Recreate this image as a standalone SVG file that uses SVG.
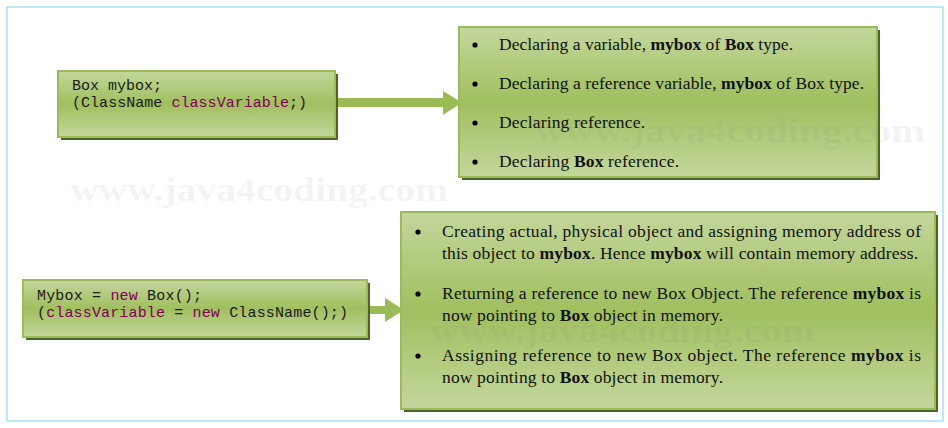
<svg xmlns="http://www.w3.org/2000/svg" width="948" height="428" viewBox="0 0 948 428">
<defs>
<linearGradient id="g" x1="0" y1="0" x2="0" y2="1">
<stop offset="0" stop-color="#c4d79c"/>
<stop offset="0.5" stop-color="#a0bf5f"/>
<stop offset="1" stop-color="#c4d79c"/>
</linearGradient>
<style>
.frame{fill:#fff;stroke:#92dbe9;stroke-width:1.2}
.box{fill:url(#g);stroke:#9bbb59;stroke-width:2}
.sh{fill:#4f6228}
.arr{fill:#9bbb59}
.code{font-family:"Liberation Mono","Courier New",monospace;font-size:15px;fill:#1a1a1a}
.kw{fill:#7f0055}
.txt{font-family:"Liberation Serif","Times New Roman",serif;font-size:17.5px;fill:#111}
.b{font-weight:bold}
.wm{font-family:"Liberation Serif","Times New Roman",serif;font-weight:bold;font-size:33px;fill:#808080;fill-opacity:0.09}
</style>
</defs>
<rect class="frame" x="7" y="7" width="936" height="414"/>
<g id="connectors">
<polygon class="arr" points="335,98 443,98 443,91 462,102.5 443,115 443,107 335,107"/>
<polygon class="arr" points="367,306 385,306 385,298 404,310 385,322 385,314 367,314"/>
</g>
<g id="node1">
<rect class="sh" x="61" y="74" width="277" height="66"/>
<rect class="box" x="58" y="71" width="277" height="66"/>
<text class="code" x="72" y="90" textLength="90" lengthAdjust="spacing">Box mybox;</text>
<text class="code" x="72" y="107" textLength="235" lengthAdjust="spacing">(ClassName <tspan class="kw">classVariable</tspan>;)</text>
</g>
<g id="node2">
<rect class="sh" x="462" y="30" width="418" height="150"/>
<rect class="box" x="459" y="27" width="418" height="150"/>
<g class="txt">
<circle cx="475" cy="45" r="2.6" fill="#000"/>
<text x="499" y="50" textLength="294" lengthAdjust="spacing">Declaring a variable, <tspan class="b">mybox</tspan> of <tspan class="b">Box</tspan> type.</text>
<circle cx="475" cy="84" r="2.6" fill="#000"/>
<text x="499" y="89" textLength="365" lengthAdjust="spacing">Declaring a reference variable, <tspan class="b">mybox</tspan> of Box type.</text>
<circle cx="475" cy="123" r="2.6" fill="#000"/>
<text x="499" y="128" textLength="146" lengthAdjust="spacing">Declaring reference.</text>
<circle cx="475" cy="162" r="2.6" fill="#000"/>
<text x="499" y="167" textLength="180" lengthAdjust="spacing">Declaring <tspan class="b">Box</tspan> reference.</text>
</g>
</g>
<g id="node3">
<rect class="sh" x="26" y="283" width="344" height="57"/>
<rect class="box" x="23" y="280" width="344" height="57"/>
<text class="code" x="37" y="300" textLength="165" lengthAdjust="spacing">Mybox = <tspan class="kw">new</tspan> Box();</text>
<text class="code" x="37" y="317" textLength="311" lengthAdjust="spacing">(<tspan class="kw">classVariable</tspan> = <tspan class="kw">new</tspan> ClassName();)</text>
</g>
<g id="node4">
<rect class="sh" x="404" y="215" width="534" height="197"/>
<rect class="box" x="401" y="212" width="534" height="197"/>
<g class="txt">
<circle cx="418" cy="232" r="2.6" fill="#000"/>
<text x="442" y="237" textLength="479" lengthAdjust="spacing">Creating actual, physical object and assigning memory address of</text>
<text x="442" y="259" textLength="476" lengthAdjust="spacing">this object to <tspan class="b">mybox</tspan>. Hence <tspan class="b">mybox</tspan> will contain memory address.</text>
<circle cx="418" cy="294" r="2.6" fill="#000"/>
<text x="442" y="299" textLength="479" lengthAdjust="spacing">Returning a reference to new Box Object. The reference <tspan class="b">mybox</tspan> is</text>
<text x="442" y="321" textLength="281" lengthAdjust="spacing">now pointing to <tspan class="b">Box</tspan> object in memory.</text>
<circle cx="418" cy="356" r="2.6" fill="#000"/>
<text x="442" y="361" textLength="479" lengthAdjust="spacing">Assigning reference to new Box object. The reference <tspan class="b">mybox</tspan> is</text>
<text x="442" y="383" textLength="281" lengthAdjust="spacing">now pointing to <tspan class="b">Box</tspan> object in memory.</text>
</g>
</g>
<g id="watermarks">
<text class="wm" x="70" y="201" textLength="378" lengthAdjust="spacingAndGlyphs">www.java4coding.com</text>
<text class="wm" x="535" y="142" textLength="390" lengthAdjust="spacingAndGlyphs">www.java4coding.com</text>
<text class="wm" x="430" y="342" textLength="385" lengthAdjust="spacingAndGlyphs">www.java4coding.com</text>
</g>
</svg>
